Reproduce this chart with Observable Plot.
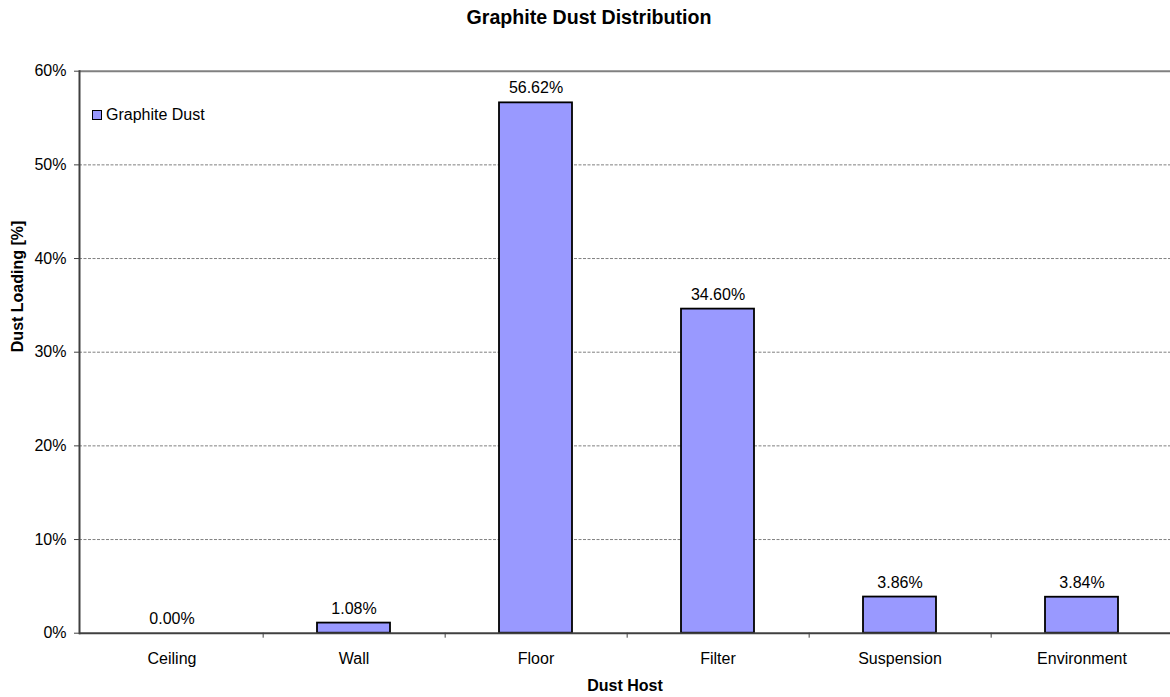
<!DOCTYPE html>
<html>
<head>
<meta charset="utf-8">
<script src="https://cdn.jsdelivr.net/npm/d3@7"></script>
<script src="https://cdn.jsdelivr.net/npm/@observablehq/plot@0.6"></script>
<style>
  html, body { margin: 0; padding: 0; background: #fff; }
  body { width: 1170px; height: 697px; position: relative; overflow: hidden;
         font-family: "Liberation Sans", Arial, sans-serif; }
  #title { position: absolute; left: 0; top: 0; width: 1178px; height: 36px; line-height: 34px;
           text-align: center; font-weight: bold; font-size: 19.6px; color: #000; }
  #chart { position: absolute; left: 0; top: 36px; }
  #legend { position: absolute; left: 92px; top: 106px; display: flex; align-items: center;
            font-size: 16px; color: #000; }
  #legend .swatch { width: 8px; height: 8px; border: 1.5px solid #000; background: #9999ff;
                    margin-right: 4px; }
</style>
</head>
<body>
<div id="title">Graphite Dust Distribution</div>
<div id="chart"></div>
<div id="legend"><span class="swatch"></span><span>Graphite Dust</span></div>
<script>
// Share of graphite dust collected by each host
const hosts = ["Ceiling", "Wall", "Floor", "Filter", "Suspension", "Environment"];
const loading = [0.0000, 0.0108, 0.5662, 0.3460, 0.0386, 0.0384];
const yTicks = [0, 0.1, 0.2, 0.3, 0.4, 0.5, 0.6];
const gridTicks = [0.1, 0.2, 0.3, 0.4, 0.5];
const xLabel = "Dust Host";
const yLabel = "Dust Loading [%]";

const data = hosts.map((h, i) => ({host: h, value: loading[i]}));

const W = 1170, H = 661;
const left = 79, right = 1173;       // plot area runs slightly past the page edge
const step = (right - left) / hosts.length;
const pct = d3.format(".0%");
const pct2 = d3.format(".2%");

const chart = Plot.plot({
  width: W,
  height: H,
  marginLeft: left,
  marginRight: 0,
  marginTop: 34.7,
  marginBottom: 64.3,
  style: {fontFamily: "Liberation Sans, Arial, sans-serif", fontSize: "16px", color: "#000", background: "#fff", overflow: "visible"},
  x: {domain: hosts, range: [left, right], paddingInner: 0.6, paddingOuter: 0.3},
  y: {domain: [0, 0.6]},
  marks: [
    // dashed horizontal gridlines
    Plot.ruleY(gridTicks, {stroke: "#808080", strokeWidth: 1, strokeDasharray: "3,1.5"}),
    // solid top border of the plot area
    Plot.ruleY([0.6], {stroke: "#808080", strokeWidth: 2}),
    // bars
    Plot.barY(data, {x: "host", y: "value", fill: "#9999ff", stroke: "#000", strokeWidth: 1.8}),
    // value labels
    Plot.text(data, {x: "host", y: "value", text: d => pct2(d.value), dy: -14.5, lineAnchor: "middle", fontSize: 16, fill: "#000"}),
    // axes lines
    Plot.ruleY([0], {stroke: "#404040", strokeWidth: 2}),
    Plot.frame({anchor: "left", stroke: "#404040", strokeWidth: 2}),
    // y axis ticks and labels
    Plot.axisY({ticks: yTicks, tickFormat: pct, tickSize: 5, tickPadding: 8, stroke: "#404040", fontSize: 16, label: null}),
    // category labels
    Plot.axisX({tickSize: 0, tickPadding: 19, fontSize: 16, label: null}),
    // separator ticks between categories
    Plot.axisX({tickSize: 5, tickFormat: () => "", dx: step / 2, stroke: "#404040", label: null}),
    // axis titles
    Plot.text([xLabel], {frameAnchor: "bottom", dy: 52.3, lineAnchor: "middle", fontWeight: "bold", fontSize: 16, fill: "#000"}),
    Plot.text([yLabel], {frameAnchor: "left", dx: -62, rotate: -90, lineAnchor: "middle", fontWeight: "bold", fontSize: 16, fill: "#000"})
  ]
});

document.getElementById("chart").appendChild(chart);
</script>
</body>
</html>
